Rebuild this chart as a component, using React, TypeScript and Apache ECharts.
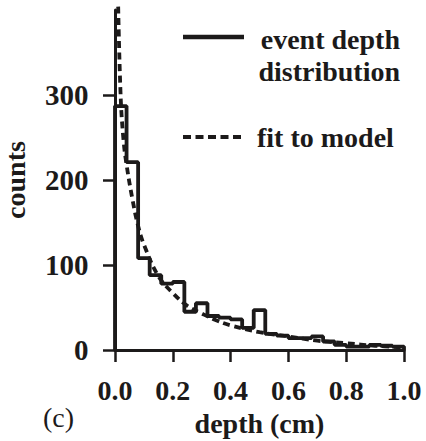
import React, { useEffect, useRef } from "react";
import * as echarts from "echarts";

// histogram: 25 bins of width 0.04 cm starting at 0
const binWidth = 0.04;
const histCounts = [287, 221, 108, 88, 78, 80, 45, 55, 40, 38, 36, 26, 47, 19, 17, 14, 14, 16, 10, 6, 4, 4, 6, 5, 4];

// fit to model
const fitDepth = [0.011, 0.02, 0.03, 0.04, 0.06, 0.08, 0.1, 0.15, 0.2, 0.25, 0.3, 0.35, 0.4, 0.5, 0.6, 0.7, 0.8, 0.9, 1.0];
const fitCounts = [404, 295, 245, 218, 178, 146, 124, 87, 67, 52, 43, 35, 29, 21, 16, 11, 8, 5, 3];

const xTicks = [0, 0.2, 0.4, 0.6, 0.8, 1.0];
const yTicks = [0, 100, 200, 300];

const FONT = "'Liberation Serif', 'Times New Roman', serif";
const INK = "#1c1a1a";

export default function App() {
  const ref = useRef<HTMLDivElement>(null);
  useEffect(() => {
    if (!ref.current) return;
    const chart = echarts.init(ref.current, null, { renderer: "svg" });

    const histData: number[][] = [[0, 0]];
    histCounts.forEach((c, i) => histData.push([i * binWidth, c]));
    histData.push([histCounts.length * binWidth, histCounts[histCounts.length - 1]]);
    histData.push([histCounts.length * binWidth, 0]);

    const fitData = fitDepth.map((d, i) => [d, fitCounts[i]]);

    const legendText = (text: string, x: number, baseline: number, align: string, weight = "bold") => ({
      type: "text",
      x,
      y: baseline - 9.5,
      style: { text, fontFamily: FONT, fontWeight: weight, fontSize: 28, fill: INK, align, verticalAlign: "middle" },
    });

    chart.setOption({
      animation: false,
      backgroundColor: "#ffffff",
      grid: { left: 115, right: 22, top: 10, bottom: 91, containLabel: false, outerBoundsMode: "none" },
      xAxis: {
        type: "value",
        min: 0,
        max: 1,
        interval: 0.2,
        offset: 1.5,
        name: "depth (cm)",
        nameLocation: "middle",
        nameGap: 52,
        nameTextStyle: { fontFamily: FONT, fontWeight: "bold", fontSize: 28, color: INK },
        axisLine: { lineStyle: { color: INK, width: 3 } },
        axisTick: { show: true, length: 12, lineStyle: { color: INK, width: 2.5 }, customValues: xTicks },
        axisLabel: {
          customValues: xTicks,
          margin: 25,
          fontFamily: FONT,
          fontWeight: "bold",
          fontSize: 28,
          color: INK,
          formatter: (v: number) => v.toFixed(1),
        },
        splitLine: { show: false },
      },
      yAxis: {
        type: "value",
        min: 0,
        max: 400,
        offset: 2.5,
        name: "counts",
        nameLocation: "middle",
        nameRotate: 90,
        nameGap: 83,
        nameTextStyle: { fontFamily: FONT, fontWeight: "bold", fontSize: 28, color: INK },
        axisLine: { show: true, lineStyle: { color: INK, width: 3 } },
        axisTick: { show: true, length: 12, lineStyle: { color: INK, width: 2.5 }, customValues: yTicks },
        axisLabel: {
          customValues: yTicks,
          margin: 24,
          fontFamily: FONT,
          fontWeight: "bold",
          fontSize: 29,
          color: INK,
        },
        splitLine: { show: false },
      },
      series: [
        {
          name: "event depth distribution",
          type: "line",
          step: "end",
          data: histData,
          showSymbol: false,
          symbol: "none",
          lineStyle: { color: INK, width: 3.8 },
          z: 3,
        },
        {
          name: "fit to model",
          type: "line",
          smooth: 0.4,
          data: fitData,
          showSymbol: false,
          symbol: "none",
          clip: false,
          lineStyle: { color: INK, width: 3.8, type: [7, 4.5] },
          z: 4,
        },
      ],
      graphic: [
        { type: "line", shape: { x1: 183, y1: 37, x2: 244, y2: 37 }, style: { stroke: INK, lineWidth: 4.5 } },
        legendText("event depth", 400, 49, "right"),
        legendText("distribution", 400, 81, "right"),
        { type: "line", shape: { x1: 183, y1: 137, x2: 244, y2: 137 }, style: { stroke: INK, lineWidth: 4, lineDash: [8, 4.5] } },
        legendText("fit to model", 257, 147, "left"),
        legendText("(c)", 43, 427, "left", "normal"),
      ],
    });
    return () => chart.dispose();
  }, []);
  return <div ref={ref} style={{ width: 426, height: 441, position: "absolute", left: 0, top: 0 }} />;
}
